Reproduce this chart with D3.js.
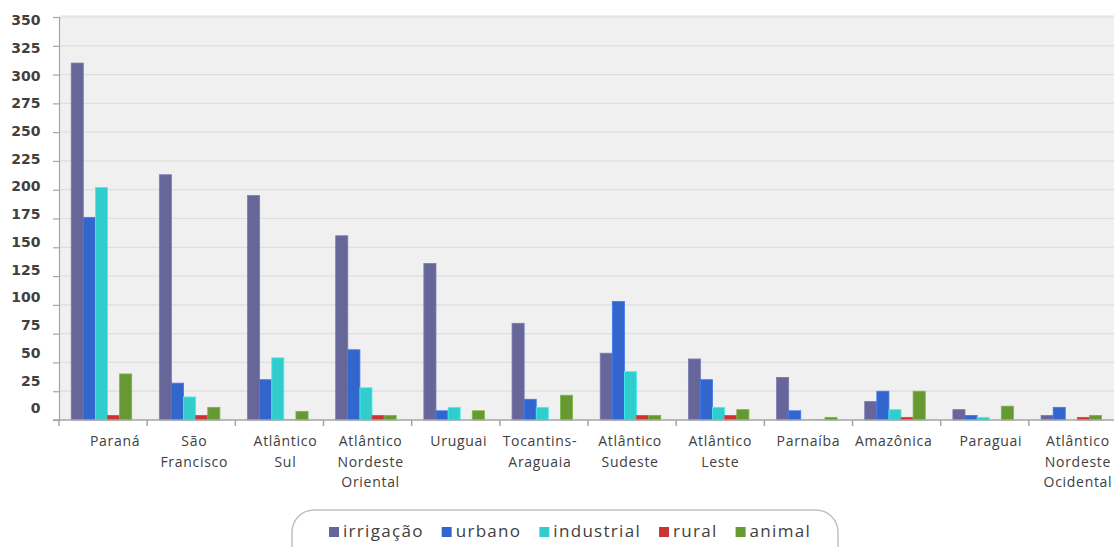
<!DOCTYPE html>
<html lang="pt">
<head>
<meta charset="utf-8">
<title>Demanda por região hidrográfica</title>
<script src="https://d3js.org/d3.v7.min.js"></script>
<style>
  body { margin: 0; background: #ffffff; }
  svg { display: block; }
  .ylab { font: bold 14px "DejaVu Sans", Verdana, sans-serif; fill: #404040; }
  .xlab { font: 14px "Open Sans", sans-serif; fill: #404040; letter-spacing: 0.7px; }
  .leg { font: 17px "Open Sans", sans-serif; fill: #404040; letter-spacing: 1.3px; }
</style>
</head>
<body>
<div id="chart"></div>
<script>
// categories (lines of each label)
var categories = [
  ["Paraná"],
  ["São", "Francisco"],
  ["Atlântico", "Sul"],
  ["Atlântico", "Nordeste", "Oriental"],
  ["Uruguai"],
  ["Tocantins-", "Araguaia"],
  ["Atlântico", "Sudeste"],
  ["Atlântico", "Leste"],
  ["Parnaíba"],
  ["Amazônica"],
  ["Paraguai"],
  ["Atlântico", "Nordeste", "Ocidental"]
];
var series = ["irrigação", "urbano", "industrial", "rural", "animal"];
var colors = ["#666699", "#3366cc", "#33cccc", "#cc3333", "#669933"];

var irrigacao  = [310, 213, 195, 160, 136, 84, 58, 53, 37, 16, 9, 4];
var urbano     = [176, 32, 35, 61, 8, 18, 103, 35, 8, 25, 4, 11];
var industrial = [202, 20, 54, 28, 11, 11, 42, 11, 0.3, 9, 2.3, 0];
var rural      = [4, 4, 0.3, 4, 0, 0, 4, 4, 0.3, 2.3, 0, 2.3];
var animal     = [40, 11, 7.5, 4, 8, 21.5, 4, 9, 2.3, 25, 12, 4];

var yTicks = [0, 25, 50, 75, 100, 125, 150, 175, 200, 225, 250, 275, 300, 325, 350];

var values = [irrigacao, urbano, industrial, rural, animal];
var width = 1114, height = 547;

var svg = d3.select("#chart").append("svg")
  .attr("width", width).attr("height", height);

var plotLeft = 59, plotTop = 17, plotBottom = 420;
var bandW = 88.17;

var y = d3.scaleLinear().domain([0, 350]).range([plotBottom, plotTop]);
// tick labels sit on a slightly tighter spacing than the gridlines
var yLabel = d3.scaleLinear().domain([0, 350]).range([408.3, 20]);

var x0 = d3.scaleBand().domain(d3.range(categories.length))
  .range([plotLeft, plotLeft + bandW * categories.length]);
var x1 = d3.scaleBand().domain(series).range([0, 60.5]);

// plot background
svg.append("rect")
  .attr("x", plotLeft).attr("y", plotTop - 2)
  .attr("width", width - plotLeft).attr("height", plotBottom - plotTop + 2)
  .attr("fill", "#f0f0f0");

// gridlines
svg.append("g").selectAll("line").data(yTicks.filter(function(d){ return d > 0; }))
  .enter().append("line")
  .attr("x1", plotLeft).attr("x2", width)
  .attr("y1", function(d){ return y(d); }).attr("y2", function(d){ return y(d); })
  .attr("stroke", "#dedede").attr("stroke-width", 1.2);

// y axis
var yAxis = svg.append("g").attr("transform", "translate(" + plotLeft + ",0)")
  .call(d3.axisLeft(y).tickValues(yTicks).tickSize(6).tickFormat(""));
yAxis.select(".domain").attr("stroke", "#a6a6a6").attr("stroke-width", 1.2);
yAxis.selectAll(".tick line").attr("stroke", "#a6a6a6").attr("stroke-width", 1.2);

svg.append("g").selectAll("text").data(yTicks).enter().append("text")
  .attr("class", "ylab")
  .attr("x", 40.5).attr("y", function(d){ return yLabel(d); })
  .attr("dy", "0.36em").attr("text-anchor", "end")
  .text(function(d){ return d; });

// bars
var groups = svg.append("g").selectAll("g").data(categories).enter().append("g")
  .attr("transform", function(d, i){ return "translate(" + (x0(i) + 12.2) + ",0)"; });

groups.selectAll("rect")
  .data(function(d, i){ return series.map(function(s, k){ return {s: s, k: k, v: values[k][i]}; }); })
  .enter().append("rect")
  .attr("x", function(d){ return x1(d.s); })
  .attr("width", x1.bandwidth())
  .attr("y", function(d){ return y(d.v); })
  .attr("height", function(d){ return plotBottom - y(d.v); })
  .attr("fill", function(d){ return colors[d.k]; })
  .attr("stroke", function(d){ return d.v > 0.5 ? d3.color(colors[d.k]).brighter(0.5) : "none"; })
  .attr("stroke-width", 0.8);

// x axis
svg.append("line")
  .attr("x1", plotLeft - 6).attr("x2", width)
  .attr("y1", plotBottom).attr("y2", plotBottom)
  .attr("stroke", "#a6a6a6").attr("stroke-width", 1.5);
svg.append("g").selectAll("line").data(d3.range(categories.length + 1)).enter().append("line")
  .attr("x1", function(i){ return plotLeft + i * bandW; })
  .attr("x2", function(i){ return plotLeft + i * bandW; })
  .attr("y1", plotBottom).attr("y2", plotBottom + 6)
  .attr("stroke", "#a6a6a6").attr("stroke-width", 1.5);

var labOffset = [12, 3, 6, 3, 3, -4, -2, 0, 0, -3, 6, 5];
svg.append("g").selectAll("text").data(categories).enter().append("text")
  .attr("class", "xlab")
  .attr("text-anchor", "middle")
  .attr("transform", function(d, i){
    return "translate(" + (x0(i) + x0.bandwidth() / 2 + labOffset[i]) + ",446)";
  })
  .each(function(d){
    var t = d3.select(this);
    d.forEach(function(line, j){
      t.append("tspan").attr("x", 0).attr("y", j * 20.5).text(line);
    });
  });

// legend
svg.append("rect")
  .attr("x", 292).attr("y", 510).attr("width", 546).attr("height", 60)
  .attr("rx", 22).attr("ry", 22)
  .attr("fill", "#ffffff").attr("stroke", "#c0c0c0").attr("stroke-width", 1.5);

var lx = 329;
series.forEach(function(s, k){
  svg.append("rect")
    .attr("x", lx).attr("y", 527).attr("width", 10).attr("height", 10)
    .attr("fill", colors[k]);
  var t = svg.append("text").attr("class", "leg")
    .attr("x", lx + 14).attr("y", 537).text(s);
  lx += 14 + t.node().getComputedTextLength() + 18;
});
</script>
</body>
</html>
